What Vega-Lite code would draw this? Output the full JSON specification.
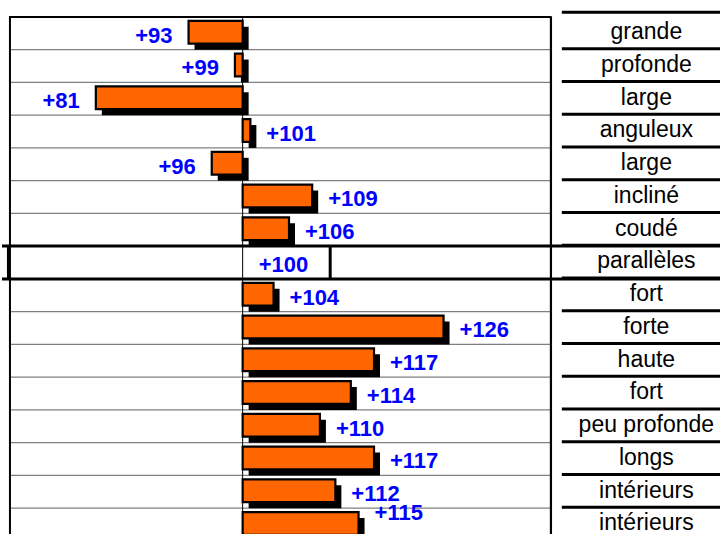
{
  "$schema": "https://vega.github.io/schema/vega-lite/v6.json",
  "width": 722,
  "height": 536,
  "padding": 0,
  "autosize": {"type": "fit", "contains": "padding"},
  "background": "white",
  "config": {"view": {"stroke": null}, "axis": {"disable": true}},
  "data": {
    "values": [
      {"label": "grande", "v": 93},
      {"label": "profonde", "v": 99},
      {"label": "large", "v": 81},
      {"label": "anguleux", "v": 101},
      {"label": "large", "v": 96},
      {"label": "incliné", "v": 109},
      {"label": "coudé", "v": 106},
      {"label": "parallèles", "v": 100},
      {"label": "fort", "v": 104},
      {"label": "forte", "v": 126},
      {"label": "haute", "v": 117},
      {"label": "fort", "v": 114},
      {"label": "peu profonde", "v": 110},
      {"label": "longs", "v": 117},
      {"label": "intérieurs", "v": 112},
      {"label": "intérieurs", "v": 115}
    ]
  },
  "transform": [{"window": [{"op": "row_number", "as": "n"}]}],
  "encoding": {
    "x": {"type": "quantitative", "scale": {"domain": [68.855, 161.78], "nice": false, "zero": false}, "axis": null},
    "y": {"type": "quantitative", "scale": {"domain": [-0.5172, 15.789], "nice": false, "zero": false, "reverse": true}, "axis": null}
  },
  "layer": [
    {
      "transform": [{"filter": "datum.n < 16"}],
      "mark": {"type": "rule", "color": "#808080", "strokeWidth": 1.2},
      "encoding": {
        "x": {"datum": 69.885, "type": "quantitative"},
        "x2": {"datum": 139.9},
        "y": {"field": "n", "type": "quantitative"}
      }
    },
    {
      "mark": {"type": "rule", "color": "black", "strokeWidth": 3, "yOffset": -1, "clip": true},
      "encoding": {
        "x": {"datum": 141.31, "type": "quantitative"},
        "x2": {"datum": 161.78},
        "y": {"field": "n", "type": "quantitative"}
      }
    },
    {
      "transform": [{"filter": "datum.n == 1"}],
      "mark": {"type": "rule", "color": "black", "strokeWidth": 3, "yOffset": -37.5},
      "encoding": {
        "x": {"datum": 141.31, "type": "quantitative"},
        "x2": {"datum": 161.78},
        "y": {"field": "n", "type": "quantitative"}
      }
    },
    {
      "data": {"values": [{"x": 69.885, "w": 2}, {"x": 139.9, "w": 2.2}, {"x": 100, "w": 1}]},
      "mark": {"type": "rule", "color": "black"},
      "encoding": {
        "x": {"field": "x", "type": "quantitative"},
        "y": {"datum": 0, "type": "quantitative"},
        "y2": {"datum": 15.789},
        "strokeWidth": {"field": "w", "type": "quantitative", "scale": null}
      }
    },
    {
      "data": {"values": [{}]},
      "mark": {"type": "rule", "color": "black", "strokeWidth": 2},
      "encoding": {
        "x": {"datum": 69.76, "type": "quantitative"},
        "x2": {"datum": 140.0},
        "y": {"datum": 0, "type": "quantitative"}
      }
    },
    {
      "transform": [{"filter": "datum.label == 'parallèles'"}],
      "mark": {"type": "rule", "color": "black", "strokeWidth": 3},
      "encoding": {
        "x": {"datum": 68.855, "type": "quantitative"},
        "x2": {"datum": 161.78},
        "y": {"field": "n", "type": "quantitative"}
      }
    },
    {
      "transform": [{"filter": "datum.label == 'parallèles'"}],
      "mark": {"type": "rule", "color": "black", "strokeWidth": 3, "yOffset": -32.87},
      "encoding": {
        "x": {"datum": 68.855, "type": "quantitative"},
        "x2": {"datum": 161.78},
        "y": {"field": "n", "type": "quantitative"}
      }
    },
    {
      "transform": [{"filter": "datum.label == 'parallèles'"}],
      "mark": {"type": "rule", "color": "black", "strokeWidth": 3, "yOffset": -32.87},
      "encoding": {
        "x": {"datum": 111.33, "type": "quantitative"},
        "y": {"field": "n", "type": "quantitative"},
        "y2": {"field": "n"}
      }
    },
    {
      "transform": [{"filter": "datum.label == 'parallèles'"}],
      "mark": {"type": "rule", "color": "black", "strokeWidth": 3, "yOffset": -32.87},
      "encoding": {
        "x": {"datum": 69.69, "type": "quantitative"},
        "y": {"field": "n", "type": "quantitative"},
        "y2": {"field": "n"}
      }
    },
    {
      "transform": [{"filter": "datum.label != 'parallèles'"}],
      "mark": {"type": "bar", "color": "black", "xOffset": 6, "x2Offset": 6, "yOffset": -22.87, "y2Offset": 0, "clip": true},
      "encoding": {
        "x": {"field": "v", "type": "quantitative"},
        "x2": {"datum": 100},
        "y": {"field": "n", "type": "quantitative"},
        "y2": {"field": "n"}
      }
    },
    {
      "transform": [{"filter": "datum.label != 'parallèles'"}],
      "mark": {"type": "bar", "fill": "#FF6600", "stroke": "black", "strokeWidth": 2.2, "yOffset": -28.87, "y2Offset": -6, "clip": true},
      "encoding": {
        "x": {"field": "v", "type": "quantitative"},
        "x2": {"datum": 100},
        "y": {"field": "n", "type": "quantitative"},
        "y2": {"field": "n"}
      }
    },
    {
      "transform": [{"filter": "datum.v < 100"}],
      "mark": {"type": "text", "align": "right", "baseline": "alphabetic", "dx": -16, "dy": -7, "font": "Liberation Sans, Arial, sans-serif", "fontWeight": "bold", "fontSize": 22, "color": "#0000FF", "clip": true},
      "encoding": {
        "x": {"field": "v", "type": "quantitative"},
        "y": {"field": "n", "type": "quantitative"},
        "text": {"field": "v", "type": "quantitative", "format": "+d"}
      }
    },
    {
      "transform": [{"filter": "datum.v >= 100 && datum.n < 16"}],
      "mark": {"type": "text", "align": "left", "baseline": "alphabetic", "dx": 16, "dy": -7, "font": "Liberation Sans, Arial, sans-serif", "fontWeight": "bold", "fontSize": 22, "color": "#0000FF", "clip": true},
      "encoding": {
        "x": {"field": "v", "type": "quantitative"},
        "y": {"field": "n", "type": "quantitative"},
        "text": {"field": "v", "type": "quantitative", "format": "+d"}
      }
    },
    {
      "transform": [{"filter": "datum.n == 16"}],
      "mark": {"type": "text", "align": "left", "baseline": "alphabetic", "dx": 16, "dy": -21, "font": "Liberation Sans, Arial, sans-serif", "fontWeight": "bold", "fontSize": 22, "color": "#0000FF", "clip": true},
      "encoding": {
        "x": {"field": "v", "type": "quantitative"},
        "y": {"field": "n", "type": "quantitative"},
        "text": {"field": "v", "type": "quantitative", "format": "+d"}
      }
    },
    {
      "mark": {"type": "text", "align": "center", "baseline": "alphabetic", "dy": -10.5, "font": "Liberation Sans, Arial, sans-serif", "fontSize": 23, "color": "black", "clip": true},
      "encoding": {
        "x": {"datum": 152.25, "type": "quantitative"},
        "y": {"field": "n", "type": "quantitative"},
        "text": {"field": "label", "type": "nominal"}
      }
    }
  ]
}
